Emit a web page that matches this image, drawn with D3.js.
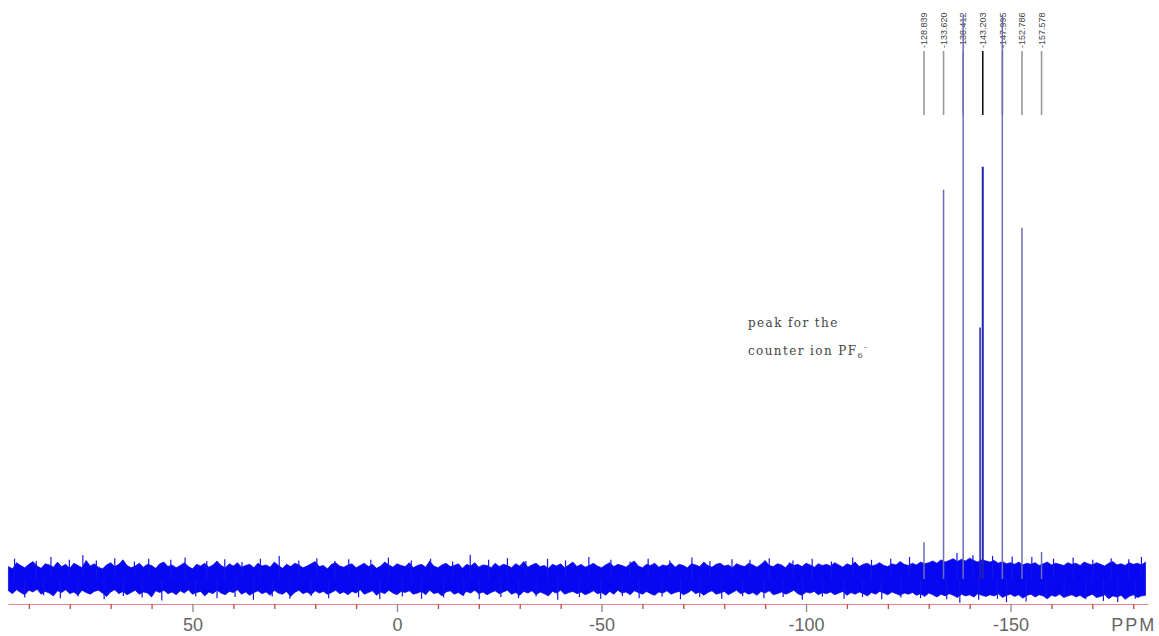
<!DOCTYPE html>
<html>
<head>
<meta charset="utf-8">
<script src="https://cdn.jsdelivr.net/npm/d3@7"></script>
<style>
  html, body { margin: 0; padding: 0; background: #fff; }
  svg { display: block; }
</style>
</head>
<body>
<svg id="chart" width="1159" height="636"></svg>
<script>
// ---- Spectrum data (chemical shift in ppm, intensity in relative units) ----

// Septet of the PF6- counter ion, plus the shoulder on the central line
const peakShifts  = [-128.839, -133.620, -138.412, -142.55, -143.203, -147.995, -152.786, -157.578];
const peakHeights = [6.5, 69.0, 100, 44.6, 73.1, 100, 62.3, 4.8];

// Peak-pick labels shown above the multiplet
const peakLabels = ["-128.839", "-133.620", "-138.412", "-143.203", "-147.995", "-152.786", "-157.578"];

// Baseline noise: upper and lower excursion in each 1 ppm step, from 95 ppm down to -183 ppm
const noiseStart = 95;
const noiseStep = -1;
const noiseUpper = [
  2.2,1.8,2.9,2.4,2.0,2.6,3.1,2.3,1.9,2.7,2.5,2.1,3.0,2.2,2.6,1.9,2.8,2.4,2.0,3.3,
  2.3,2.7,2.1,1.8,2.5,2.9,2.2,2.6,3.4,2.4,2.0,2.3,2.8,2.1,2.6,2.4,1.9,2.7,3.0,2.2,
  2.5,2.0,2.4,2.9,2.2,1.8,2.6,2.3,2.8,2.1,2.5,3.2,2.4,2.0,2.7,2.3,2.9,2.1,2.4,2.6,
  2.0,2.8,2.3,2.5,2.1,3.0,2.4,1.9,2.6,2.2,2.8,2.5,2.0,2.3,2.7,3.1,2.2,2.4,1.8,2.6,
  2.9,2.3,2.1,2.5,2.7,2.0,2.4,2.8,2.2,2.6,1.9,2.3,3.0,2.5,2.1,2.7,2.4,2.2,2.9,2.0,
  2.4,2.6,2.1,3.2,2.3,2.0,2.5,2.8,2.2,2.4,2.7,1.9,2.6,2.3,2.9,2.1,2.5,2.4,2.0,2.8,
  2.2,2.6,2.4,2.0,2.7,2.3,3.1,2.1,2.5,2.8,2.2,2.4,1.9,2.6,2.3,2.7,2.0,2.5,3.0,2.2,
  2.6,2.1,2.4,2.8,2.3,2.0,2.5,2.9,2.2,2.6,2.4,2.1,2.7,3.2,2.3,2.0,2.6,2.4,2.8,2.1,
  2.5,2.3,2.9,2.1,2.6,2.4,2.0,2.7,2.5,2.2,3.0,2.4,2.1,2.6,2.8,2.3,2.5,2.0,2.7,2.4,
  2.2,2.8,2.5,2.1,2.6,3.3,2.4,2.2,2.7,2.5,2.0,2.9,2.4,2.6,2.2,2.8,2.5,2.1,2.7,2.4,
  2.6,2.3,2.9,2.5,2.1,2.7,2.4,3.0,2.2,2.6,2.8,2.3,2.5,2.9,2.4,2.2,2.7,2.5,3.1,2.6,
  2.4,2.8,2.5,3.0,2.7,2.9,3.2,2.8,3.4,3.0,3.3,3.6,3.1,3.5,3.2,3.7,3.3,3.0,3.4,3.2,
  3.0,3.3,2.8,3.1,2.7,2.9,2.6,3.0,2.5,2.8,2.6,2.9,2.4,2.7,3.0,2.5,2.8,2.6,2.4,2.9,
  2.6,2.8,2.4,3.0,2.7,2.5,2.9,2.6,2.3,2.8,3.1,2.5,2.7,2.4,2.9,2.6,2.8,2.5,3.0
];
const noiseLower = [
  -2.1,-2.6,-1.9,-2.4,-2.8,-2.0,-2.3,-1.8,-2.7,-2.2,-2.5,-3.0,-2.1,-2.4,-1.9,-2.6,-2.3,-2.9,-2.0,-2.4,
  -2.7,-2.2,-2.0,-2.5,-3.1,-2.3,-1.9,-2.6,-2.2,-2.8,-2.4,-2.0,-2.7,-2.3,-2.5,-3.2,-2.1,-2.4,-2.0,-2.6,
  -2.3,-2.8,-2.1,-2.5,-1.9,-2.7,-2.4,-2.2,-3.0,-2.3,-2.6,-2.0,-2.5,-2.8,-2.2,-2.4,-1.9,-2.7,-2.3,-2.9,
  -2.4,-2.1,-2.6,-2.3,-2.9,-2.0,-2.5,-2.7,-2.2,-3.1,-2.4,-2.0,-2.6,-2.3,-2.8,-2.1,-2.5,-2.2,-2.7,-2.4,
  -2.0,-2.6,-2.3,-2.8,-2.2,-2.5,-1.9,-2.7,-2.4,-2.1,-2.9,-2.3,-2.6,-2.0,-2.5,-2.8,-2.2,-2.4,-2.1,-2.7,
  -2.5,-2.2,-2.8,-2.0,-2.6,-2.4,-3.0,-2.3,-2.1,-2.7,-2.4,-2.9,-2.2,-2.5,-2.0,-2.6,-2.3,-2.8,-2.4,-2.1,
  -2.6,-2.3,-2.0,-2.7,-2.4,-2.9,-2.2,-2.5,-2.1,-2.8,-2.3,-2.6,-3.0,-2.2,-2.5,-2.0,-2.7,-2.4,-2.2,-2.6,
  -2.3,-2.8,-2.5,-2.1,-2.6,-2.4,-2.9,-2.2,-2.7,-2.0,-2.5,-2.3,-2.8,-2.1,-2.4,-2.7,-2.2,-2.6,-2.9,-2.3,
  -2.5,-2.1,-2.7,-2.4,-2.2,-2.8,-2.5,-2.0,-2.6,-2.3,-2.9,-2.4,-2.1,-2.7,-2.5,-2.2,-2.8,-2.4,-2.0,-2.6,
  -2.3,-2.7,-2.4,-2.9,-2.2,-2.5,-2.1,-2.8,-2.6,-2.3,-2.7,-2.4,-2.0,-2.6,-2.9,-2.3,-2.5,-2.2,-2.8,-2.4,
  -2.6,-2.3,-2.8,-2.5,-2.2,-2.9,-2.4,-2.7,-2.3,-2.6,-3.0,-2.4,-2.7,-2.2,-2.5,-2.8,-2.3,-2.6,-2.9,-2.5,
  -2.7,-2.4,-2.9,-2.6,-3.1,-2.5,-2.8,-3.2,-2.7,-3.0,-2.6,-2.9,-3.3,-2.7,-3.0,-2.8,-3.2,-2.6,-2.9,-3.1,
  -2.8,-3.0,-2.6,-3.3,-2.9,-2.7,-3.1,-2.8,-3.4,-2.9,-2.7,-3.2,-2.8,-3.0,-3.5,-2.9,-3.1,-2.7,-3.3,-3.0,
  -2.8,-3.2,-2.9,-3.4,-3.0,-2.7,-3.3,-3.1,-2.8,-3.5,-3.0,-3.2,-2.9,-3.6,-3.1,-2.8,-3.3,-3.0,-2.9
];

// Individual noise spikes sticking out of the baseline band [ppm, intensity]
const noiseSpikes = [
  [93.5, 3.6], [88.2, 3.2], [84.6, 3.9], [80.1, 3.4], [76.8, 4.2], [73.5, 3.3], [69.0, 3.7],
  [64.2, 3.1], [60.7, 3.6], [55.3, 3.4], [51.8, 3.8], [46.5, 3.2], [42.1, 3.5], [37.9, 3.0],
  [33.4, 3.6], [28.8, 4.1], [24.0, 3.3], [19.6, 3.7], [15.2, 3.2], [11.8, 3.5], [6.4, 3.4],
  [2.1, 3.8], [-3.5, 3.3], [-8.2, 3.6], [-13.6, 3.1], [-17.9, 4.3], [-22.4, 3.4], [-27.0, 3.7],
  [-31.5, 3.2], [-36.8, 3.6], [-41.2, 3.3], [-46.9, 3.9], [-52.3, 3.4], [-57.0, 3.1], [-61.4, 3.6],
  [-66.7, 3.3], [-72.1, 3.8], [-76.5, 3.2], [-81.9, 3.5], [-86.3, 3.4], [-91.0, 3.7], [-96.8, 3.3],
  [-101.5, 3.6], [-106.2, 3.1], [-111.4, 3.8], [-116.0, 3.4], [-120.7, 3.6], [-125.3, 3.9],
  [-136.9, 4.6], [-140.8, 4.2], [-145.6, 4.1], [-150.4, 4.0], [-155.2, 3.9], [-160.5, 3.6],
  [-165.3, 3.8], [-170.1, 3.4], [-174.6, 3.7], [-178.9, 3.5], [-182.0, 3.9],
  [91.0, -3.3], [86.4, -2.9], [82.3, -3.4], [78.0, -3.1], [71.6, -3.6], [66.9, -3.0], [62.3, -3.3],
  [57.5, -3.8], [49.2, -3.1], [44.0, -3.4], [39.6, -3.2], [35.1, -3.7], [30.5, -3.1], [26.2, -3.5],
  [21.0, -3.0], [16.7, -3.4], [9.4, -3.2], [4.2, -3.6], [-1.3, -3.1], [-6.0, -3.5], [-11.4, -3.3],
  [-16.3, -3.0], [-20.1, -3.6], [-25.4, -3.2], [-29.7, -3.4], [-34.0, -3.1], [-39.3, -3.7],
  [-44.6, -3.2], [-49.8, -3.5], [-55.1, -3.0], [-59.2, -3.4], [-64.8, -3.1], [-69.3, -3.6],
  [-74.0, -3.2], [-79.4, -3.5], [-84.5, -3.0], [-89.7, -3.4], [-94.4, -3.2], [-99.1, -3.7],
  [-104.0, -3.1], [-109.3, -3.5], [-113.8, -3.2], [-118.5, -3.6], [-123.2, -3.3], [-128.0, -3.4],
  [-134.4, -3.6], [-137.6, -4.2], [-142.2, -3.7], [-146.8, -3.5], [-149.0, -4.1], [-153.8, -4.0],
  [-158.6, -3.4], [-163.1, -3.2], [-168.4, -3.6], [-172.7, -3.9], [-176.2, -4.1], [-180.5, -3.5]
];

// Axis ticks (every 10 ppm); numbered every 50 ppm, unit label at the far end
const tickValues = d3.range(90, -181, -10);
const numberedTicks = [50, 0, -50, -100, -150];
const unitLabel = "PPM";

// ---- Drawing ----
const svg = d3.select("#chart");

const x = d3.scaleLinear().domain([95.1, -183.6]).range([8, 1148]);
const y = d3.scaleLinear().domain([0, 100]).range([579, 15]);

const noise = noiseUpper.map((hi, i) => ({
  ppm: noiseStart + i * noiseStep,
  hi: hi,
  lo: noiseLower[i]
}));

// Peak-pick labels with their leader lines
const highlightLabel = "-143.203";
const labelG = svg.append("g");
labelG.selectAll("line")
  .data(peakLabels)
  .join("line")
  .attr("x1", d => x(+d)).attr("x2", d => x(+d))
  .attr("y1", 51).attr("y2", 115)
  .attr("stroke", d => d === highlightLabel ? "#111" : "#9a9a9a")
  .attr("stroke-width", 1.6);
labelG.selectAll("text")
  .data(peakLabels)
  .join("text")
  .attr("transform", d => `translate(${x(+d) + 3.2},48) rotate(-90)`)
  .attr("font-family", "'Liberation Sans Narrow', 'Liberation Sans', sans-serif")
  .attr("font-size", 9)
  .attr("fill", "#444")
  .text(d => d);

// Baseline noise band: filled between the upper and lower excursions
svg.append("path")
  .datum(noise)
  .attr("fill", "#0707f2")
  .attr("stroke", "#0606d8")
  .attr("stroke-width", 0.7)
  .attr("d", d3.area()
    .x(d => x(d.ppm))
    .y0(d => y(d.lo))
    .y1(d => y(d.hi)));

svg.append("g")
  .selectAll("line")
  .data(noiseSpikes)
  .join("line")
  .attr("x1", d => x(d[0])).attr("x2", d => x(d[0]))
  .attr("y1", y(0)).attr("y2", d => y(d[1]))
  .attr("stroke", "#1414e8")
  .attr("stroke-width", 1.2);

// Peaks
const peaks = peakShifts.map((p, i) => ({ ppm: p, h: peakHeights[i] }));
const strongPeak = d3.max(peaks.filter(p => p.h < 100), p => p.h);
svg.append("g")
  .selectAll("line")
  .data(peaks)
  .join("line")
  .attr("x1", d => x(d.ppm)).attr("x2", d => x(d.ppm))
  .attr("y1", y(0)).attr("y2", d => y(d.h))
  .attr("stroke", d => (d.h === strongPeak || (d.h > 40 && d.h < 50)) ? "#2222b8" : "#6c6cb4")
  .attr("stroke-width", d => (d.h === strongPeak) ? 2 : 1.5);

// x axis
const axis = d3.axisBottom(x)
  .tickValues(tickValues)
  .tickSize(5)
  .tickSizeOuter(0)
  .tickFormat(d => numberedTicks.includes(d) ? String(d) : (d === -180 ? unitLabel : ""));

const axisG = svg.append("g")
  .attr("transform", "translate(0,604)")
  .call(axis);
axisG.select(".domain").attr("stroke", "#e08a8a").attr("stroke-width", 1.2);
axisG.selectAll(".tick line")
  .attr("stroke", d => numberedTicks.includes(d) ? "#888" : "#c84848")
  .attr("y2", d => numberedTicks.includes(d) ? 8 : 5)
  .attr("stroke-width", 1.3);
axisG.selectAll(".tick text")
  .attr("y", 14)
  .attr("dy", "0.71em")
  .attr("font-family", "'Liberation Sans Narrow', 'Liberation Sans', sans-serif")
  .attr("font-size", 18)
  .attr("fill", "#666")
  .attr("letter-spacing", d => d === -180 ? 2 : 0);

// Annotation for the counter-ion multiplet
const note = svg.append("g")
  .attr("font-family", "'DejaVu Serif', serif")
  .attr("font-size", 12)
  .attr("letter-spacing", 1.4)
  .attr("fill", "#444");
note.append("text").attr("x", 748).attr("y", 327).text("peak for the");
const t2 = note.append("text").attr("x", 748).attr("y", 355);
t2.append("tspan").text("counter ion PF");
t2.append("tspan").attr("dy", 3).attr("font-size", 8).text("6");
t2.append("tspan").attr("dy", -8).attr("font-size", 8).text("-");
</script>
</body>
</html>
